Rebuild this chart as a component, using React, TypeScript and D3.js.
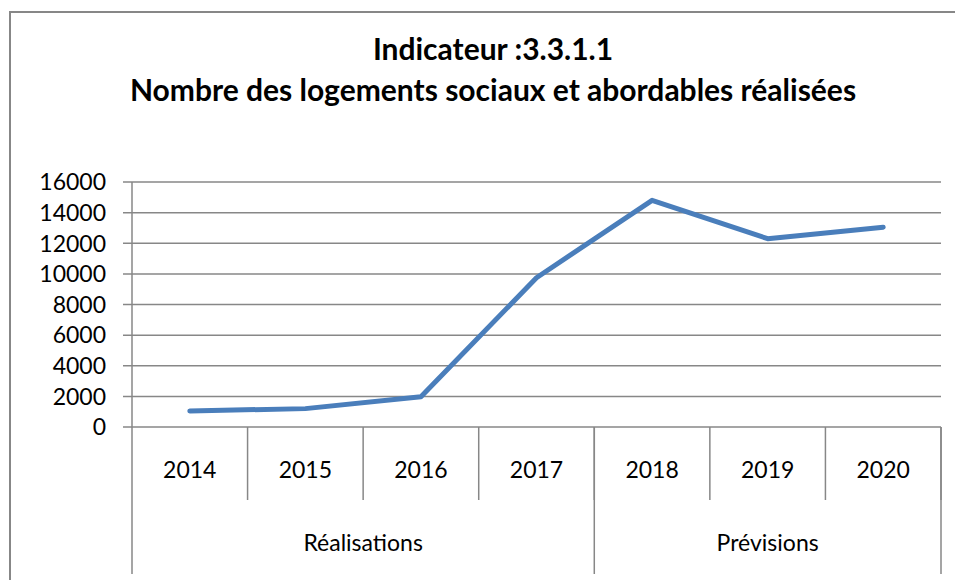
import React, { useRef, useEffect } from 'react';
import * as d3 from 'd3';

const years = ['2014', '2015', '2016', '2017', '2018', '2019', '2020'];
const values = [1050, 1200, 1980, 9750, 14800, 12300, 13050];
const groupLabels = ['Réalisations', 'Prévisions'];
const groupSpans = [4, 3];
const titleLines = ['Indicateur :3.3.1.1', 'Nombre des logements sociaux et abordables réalisées'];

const width = 955;
const height = 580;
const plotLeft = 132;
const plotRight = 941;
const plotTop = 182;
const plotBottom = 427;
const yearRowBottom = 500;
const groupRowBottom = 574;
const gridColor = '#878787';
const lineColor = '#4a7ebb';
const font = 'Lato, "Open Sans", sans-serif';

const Chart = () => {
    const ref = useRef<SVGGElement>(null);

    useEffect(() => {
        if (!ref.current) return;
        const g = d3.select(ref.current);
        g.selectAll('*').remove();

        const x = d3.scaleBand().domain(years).range([plotLeft, plotRight]);
        const y = d3.scaleLinear().domain([0, 16000]).range([plotBottom, plotTop]);

        // outer chart border (right and bottom are off the picture)
        g.append('path')
            .attr('d', `M10,${height + 5} V12 H${width + 5}`)
            .attr('fill', 'none')
            .attr('stroke', gridColor)
            .attr('stroke-width', 2);

        // title
        const title = g.append('text')
            .attr('text-anchor', 'middle')
            .attr('font-family', font)
            .attr('font-weight', 'bold')
            .attr('font-size', 30)
            .attr('fill', '#000');
        titleLines.forEach((t, i) => {
            title.append('tspan').attr('x', 493).attr('y', 60 + i * 41).text(t);
        });

        // gridlines
        const ticks = y.ticks(8);
        g.append('g').selectAll('line').data(ticks).join('line')
            .attr('x1', plotLeft - 9)
            .attr('x2', plotRight)
            .attr('y1', d => y(d))
            .attr('y2', d => y(d))
            .attr('stroke', gridColor)
            .attr('stroke-width', 1.5);

        // y labels
        g.append('g').selectAll('text').data(ticks).join('text')
            .attr('x', 106)
            .attr('y', d => y(d))
            .attr('dy', '0.36em')
            .attr('text-anchor', 'end')
            .attr('font-family', font)
            .attr('font-size', 23)
            .attr('fill', '#000')
            .text(d => d);

        // y axis line
        g.append('line')
            .attr('x1', plotLeft).attr('x2', plotLeft)
            .attr('y1', plotTop).attr('y2', groupRowBottom)
            .attr('stroke', gridColor).attr('stroke-width', 1.5);

        // year dividers
        const bounds = years.map(d => x(d)!).concat([plotRight]);
        g.append('g').selectAll('line').data(bounds.slice(1)).join('line')
            .attr('x1', d => d).attr('x2', d => d)
            .attr('y1', plotBottom).attr('y2', yearRowBottom)
            .attr('stroke', gridColor).attr('stroke-width', 1.5);

        // year labels
        g.append('g').selectAll('text').data(years).join('text')
            .attr('x', d => x(d)! + x.bandwidth() / 2)
            .attr('y', 478)
            .attr('text-anchor', 'middle')
            .attr('font-family', font)
            .attr('font-size', 23)
            .attr('fill', '#000')
            .text(d => d);

        // group dividers and labels
        let start = 0;
        groupLabels.forEach((label, i) => {
            const x0 = bounds[start];
            const x1 = bounds[start + groupSpans[i]];
            g.append('line')
                .attr('x1', x1).attr('x2', x1)
                .attr('y1', plotBottom).attr('y2', groupRowBottom)
                .attr('stroke', gridColor).attr('stroke-width', 1.5);
            g.append('text')
                .attr('x', (x0 + x1) / 2)
                .attr('y', 551)
                .attr('text-anchor', 'middle')
                .attr('font-family', font)
                .attr('font-size', 23)
                .attr('fill', '#000')
                .text(label);
            start += groupSpans[i];
        });

        // the series line
        const line = d3.line<number>()
            .x((d, i) => x(years[i])! + x.bandwidth() / 2)
            .y(d => y(d));
        g.append('path')
            .datum(values)
            .attr('d', line)
            .attr('fill', 'none')
            .attr('stroke', lineColor)
            .attr('stroke-width', 5)
            .attr('stroke-linecap', 'round')
            .attr('stroke-linejoin', 'round');
    }, []);

    return (
        <svg width={width} height={height} style={{ position: 'absolute', left: 0, top: 0, background: '#fff' }}>
            <g ref={ref} />
        </svg>
    );
};

export default function App() {
    return <Chart />;
}
